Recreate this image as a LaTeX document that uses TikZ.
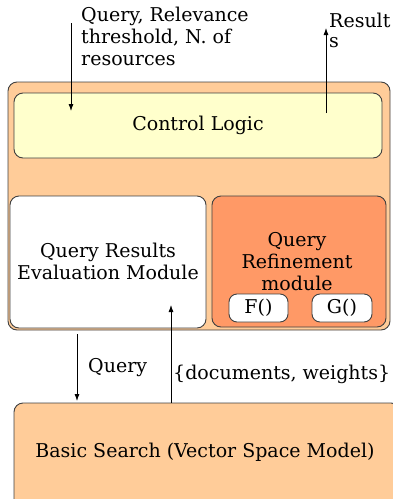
\documentclass[tikz,border=0pt]{standalone}
\usepackage{fontspec}
\setmainfont{DejaVu Serif}
\usetikzlibrary{arrows.meta}
\definecolor{peach}{HTML}{FFCC99}
\definecolor{paleyellow}{HTML}{FFFFCC}
\definecolor{salmon}{HTML}{FF9966}
\definecolor{edge}{HTML}{404040}
\tikzset{
  box/.style={draw=edge, line width=0.9pt, rounded corners=9pt, inner sep=0pt, align=center, font=\fontsize{19}{22}\selectfont},
  tag/.style={inner sep=0pt, align=left, font=\fontsize{19}{22}\selectfont},
  flow/.style={-{Latex[length=7pt,width=5pt]}, line width=0.8pt},
}
\begin{document}
\begin{tikzpicture}[x=1pt,y=-1pt]
\useasboundingbox (0,0) rectangle (393,499);
\clip (0,0) rectangle (393,499);
% outer system container
\node[box, fill=peach, minimum width=382pt, minimum height=248pt] (sys) at (199,206) {};
% inner modules
\node[box, fill=paleyellow, minimum width=368pt, minimum height=65pt] (ctrl) at (198,125.5) {Control Logic};
\node[box, fill=white, minimum width=196pt, minimum height=132pt] (eval) at (108,262) {};
\node[tag, align=center] (evaltxt) at (108,261) {Query Results\\Evaluation Module};
\node[box, fill=salmon, minimum width=174pt, minimum height=131pt] (refine) at (299,261.5) {};
\node[tag, align=center] (refinetxt) at (297,262) {Query\\Refinement\\module};
\node[box, fill=white, rounded corners=8pt, minimum width=59pt, minimum height=28pt] (f) at (258.5,308) {F()};
\node[box, fill=white, rounded corners=8pt, minimum width=60pt, minimum height=28pt] (g) at (342,308) {G()};
% search back end
\node[box, fill=peach, minimum width=386pt, minimum height=110pt] (search) at (207,458) {};
\node[tag] (searchtxt) at (205,452) {Basic Search (Vector Space Model)};
% external input and output (base anchor sits on the last line)
\node[tag, anchor=base west] (inlbl) at (81,65) {Query, Relevance\\threshold, N. of\\resources};
\node[tag, anchor=base west, font=\fontsize{19}{20}\selectfont] (outlbl) at (329,47) {Result\\s};
\coordinate (inA) at (71,23);
\coordinate (inB) at (71,111);
\coordinate (outA) at (326,113);
\coordinate (outB) at (326,28);
\draw[flow] (inA) -- (inB);
\draw[flow] (outA) -- (outB);
% exchange with the search engine
\coordinate (qA) at (77,334);
\coordinate (qB) at (77,401);
\coordinate (dA) at (171,403);
\coordinate (dB) at (171,305);
\draw[flow] (qA) -- (qB);
\draw[flow] (dA) -- (dB);
\node[tag, anchor=base west] (qlbl) at (88,372) {Query};
\node[tag, anchor=base west] (dlbl) at (173,379) {\{documents, weights\}};
\end{tikzpicture}
\end{document}
